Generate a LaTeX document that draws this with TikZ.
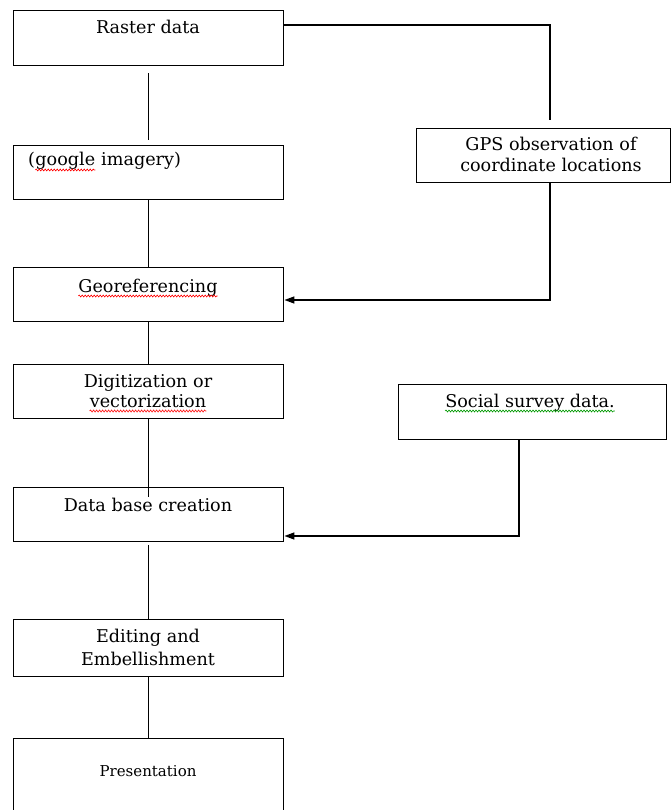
\documentclass[tikz,border=0pt]{standalone}
\usepackage{fontspec}
\setmainfont{DejaVu Serif}
\usetikzlibrary{arrows.meta,decorations.pathmorphing}
\tikzset{
  box/.style={draw=black, line width=1.4pt, inner sep=0pt},
  txt/.style={inner sep=0pt, anchor=base, font=\fontsize{17.6}{21}\selectfont, align=center},
  conn/.style={draw=black, line width=1.4pt},
  arr/.style={conn, -{Triangle[length=10pt,width=7pt]}},
  wave/.style={draw=#1, line width=0.6pt, decorate, decoration={snake, amplitude=1pt, segment length=3pt}}
}
\begin{document}
\begin{tikzpicture}[x=1pt,y=-1pt]
\clip (0,0) rectangle (671,810);
\useasboundingbox (0,0) rectangle (671,810);
% boxes
\node[box, minimum width=270pt, minimum height=55pt, anchor=north west] (raster) at (13,10) {};
\node[box, minimum width=270pt, minimum height=54pt, anchor=north west] (google) at (13,145) {};
\node[box, minimum width=270pt, minimum height=54pt, anchor=north west] (georef) at (13,267) {};
\node[box, minimum width=270pt, minimum height=54pt, anchor=north west] (digit) at (13,364) {};
\node[box, minimum width=270pt, minimum height=54pt, anchor=north west] (dbase) at (13,487) {};
\node[box, minimum width=270pt, minimum height=57pt, anchor=north west] (edit) at (13,619) {};
\node[box, minimum width=270pt, minimum height=90pt, anchor=north west] (pres) at (13,738) {};
\node[box, minimum width=254pt, minimum height=54pt, anchor=north west] (gps) at (416,128) {};
\node[box, minimum width=268pt, minimum height=55pt, anchor=north west] (social) at (398,384) {};
% texts
\node[txt] (rastert) at (148,34) {Raster data};
\node[txt, anchor=base west] (googlep) at (28,166) {(};
\node[txt, anchor=base west] (googleg) at (googlep.base east) {google};
\node[txt, anchor=base west] (googlei) at (googleg.base east) {~imagery)};
\node[txt] (georeft) at (148,292) {Georeferencing};
\node[txt] (digitt1) at (148,387) {Digitization or};
\node[txt] (digitt2) at (148,407) {vectorization};
\node[txt] (dbaset) at (148,511) {Data base creation};
\node[txt] (editt1) at (148,642) {Editing and};
\node[txt] (editt2) at (148,665) {Embellishment};
\node[txt, font=\fontsize{15}{18}\selectfont] (prest) at (148,776) {Presentation};
\node[txt] (gpst1) at (551,151) {GPS observation of};
\node[txt] (gpst2) at (551,172) {coordinate locations};
\node[txt] (socialt) at (530,407) {Social survey data.};
% spell-check waves
\draw[wave=red] ([yshift=-4pt]googleg.base west) -- ([yshift=-4pt]googleg.base east);
\draw[wave=red] ([yshift=-4pt]georeft.base west) -- ([yshift=-4pt]georeft.base east);
\draw[wave=red] ([yshift=-4pt]digitt2.base west) -- ([yshift=-4pt]digitt2.base east);
\draw[wave=green!60!black] ([yshift=-4pt]socialt.base west) -- ([yshift=-4pt]socialt.base east);
% connectors
\coordinate (c1) at (550,25);
\coordinate (c2) at (550,300);
\coordinate (c3) at (519,536);
\draw[conn] ([yshift=-7pt]raster.south) -- ([yshift=5pt]google.north);
\draw[conn] (google.south) -- (georef.north);
\draw[conn] (georef.south) -- (digit.north);
\draw[conn] (digit.south) -- ([yshift=-10pt]dbase.north);
\draw[conn] ([yshift=-3pt]dbase.south) -- (edit.north);
\draw[conn] (edit.south) -- (pres.north);
\draw[conn] (raster.east |- c1) -- (c1) -- ([yshift=8pt]gps.north -| c1);
\draw[arr] (gps.south -| c2) -- (c2) -- (georef.east |- c2);
\draw[arr] (social.south -| c3) -- (c3) -- (dbase.east |- c3);
\end{tikzpicture}
\end{document}
